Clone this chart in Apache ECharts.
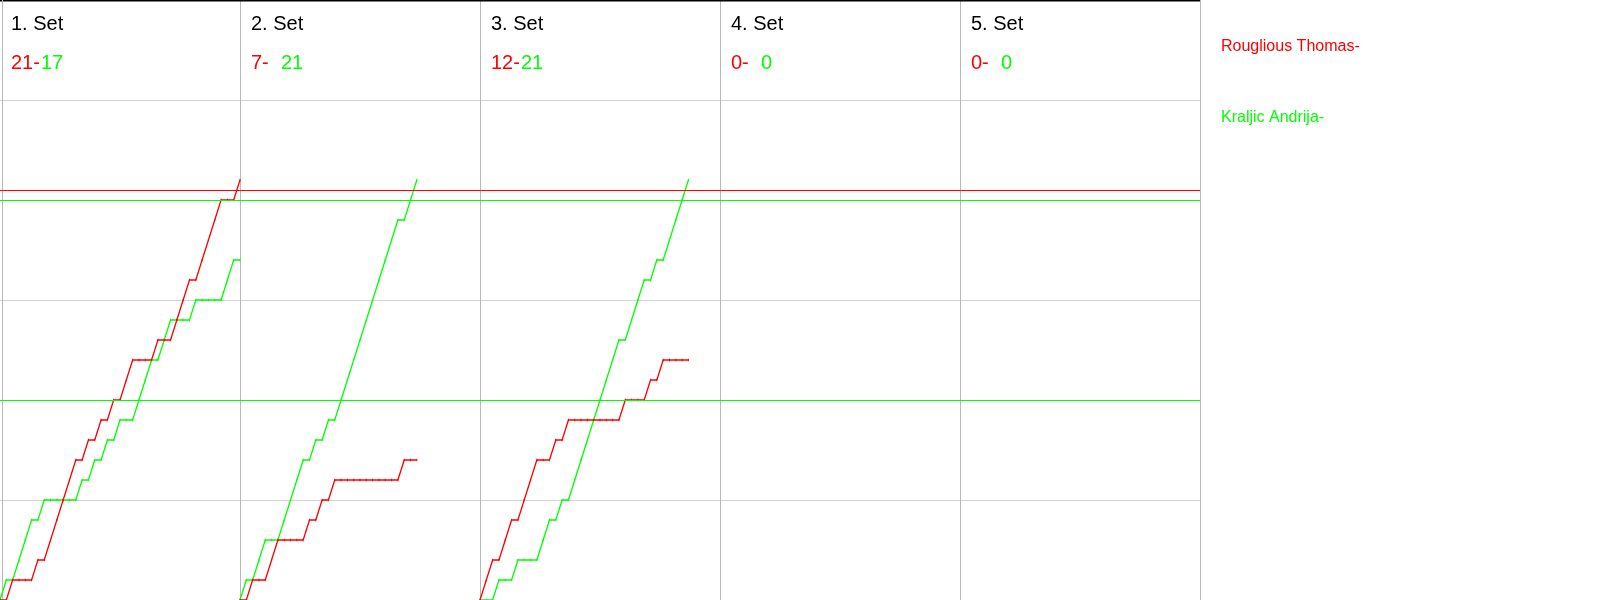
<!DOCTYPE html>
<html><head><meta charset="utf-8">
<script src="https://cdn.jsdelivr.net/npm/echarts@6/dist/echarts.min.js"></script>
<style>html,body{margin:0;padding:0;background:#fff}#c{width:1600px;height:600px}</style>
</head><body><div id="c"></div>
<script>
// ---------- data ----------
const setTitles = ['1. Set', '2. Set', '3. Set', '4. Set', '5. Set'];
const playerRed = 'Rouglious Thomas-';
const playerGreen = 'Kraljic Andrija-';
// rally winners per set: 'R' = red player, 'G' = green player
const set1 = ['G','R','G','G','G','R','G','R','R','R','R','R','G','R','G','R','G','R','G','R','R','G','G','G','R','G','G','R','R','R','G','R','R','R','R','G','G','R'];
const set2 = ['G','R','G','G','R','R','G','G','G','G','R','G','R','G','R','G','G','G','G','G','G','G','G','G','G','R','G','G'];
const set3 = ['R','R','G','R','R','G','R','R','R','G','G','R','G','R','G','G','G','G','G','G','G','G','R','G','G','G','R','G','R','G','G','G','G'];
const set4 = [];
const set5 = [];
const sets = [set1, set2, set3, set4, set5];
const ralliesPerPanel = 38;
const yMax = 30;
const yStep = 5;
const redRefLines = [20.5];
const greenRefLines = [10, 20];

// ---------- build ----------
const RED = '#ff0000', GREEN = '#00ff00';
const FONT = '"Liberation Sans", Arial, sans-serif';
const redData = [], greenData = [], finals = [];
sets.forEach((s, k) => {
  let r = 0, g = 0;
  const x0 = k * ralliesPerPanel;
  if (s.length) {
    redData.push([x0, 0]); greenData.push([x0, 0]);
    s.forEach((w, i) => {
      if (w === 'R') r++; else g++;
      redData.push([x0 + i + 1, r]); greenData.push([x0 + i + 1, g]);
    });
    redData.push(['-', '-']); greenData.push(['-', '-']);
  }
  finals.push([r, g]);
});

const chart = echarts.init(document.getElementById('c'), null, {renderer: 'canvas'});
function mk(vals, color) {
  return {
    silent: true, symbol: 'none', animation: false,
    label: {show: false},
    lineStyle: {color: color, width: 1, type: 'solid'},
    data: vals.map(v => ({yAxis: v}))
  };
}
const option = {
  animation: false,
  backgroundColor: '#fff',
  grid: {left: 0, right: 400, top: 0, bottom: 0},
  xAxis: {
    type: 'value', min: 0, max: ralliesPerPanel * sets.length, interval: ralliesPerPanel,
    axisLine: {show: true, onZero: false, lineStyle: {color: '#d0d0d0'}},
    axisTick: {show: false}, axisLabel: {show: false},
    splitLine: {show: true, showMinLine: false, lineStyle: {color: '#b8b8b8', width: 1}}
  },
  yAxis: {
    type: 'value', min: 0, max: yMax, interval: yStep,
    axisLine: {show: false}, axisTick: {show: false}, axisLabel: {show: false},
    splitLine: {show: true, lineStyle: {color: '#d3d3d3', width: 1}}
  },
  legend: {
    orient: 'vertical', left: 1211, top: 34, icon: 'none',
    itemWidth: 0, itemHeight: 16, itemGap: 55, selectedMode: false,
    textStyle: {fontSize: 16, fontFamily: FONT},
    data: [
      {name: playerRed, textStyle: {color: RED}},
      {name: playerGreen, textStyle: {color: GREEN}}
    ]
  },
  series: [
    {name: playerRed, type: 'line', data: redData, connectNulls: false,
     symbol: 'rect', symbolSize: [1, 2.5], showAllSymbol: true,
     itemStyle: {color: RED}, lineStyle: {color: RED, width: 1.3}, z: 3,
     markLine: mk(redRefLines, RED)},
    {name: playerGreen, type: 'line', data: greenData, connectNulls: false,
     symbol: 'rect', symbolSize: [1, 2.5], showAllSymbol: true,
     itemStyle: {color: GREEN}, lineStyle: {color: GREEN, width: 1.3}, z: 2,
     markLine: mk(greenRefLines, GREEN)}
  ]
};
chart.setOption(option);

// header texts per panel, placed from the axis
const graphics = [];
const rightPx = chart.convertToPixel({xAxisIndex: 0}, ralliesPerPanel * sets.length);
graphics.push({type: 'rect', left: 0, top: 0, shape: {width: rightPx, height: 1.5}, style: {fill: '#000'}, silent: true});
graphics.push({type: 'line', shape: {x1: 2.5, y1: 0, x2: 2.5, y2: 600}, style: {stroke: '#b8b8b8', lineWidth: 1}, silent: true});
sets.forEach((s, k) => {
  const px = chart.convertToPixel({xAxisIndex: 0}, k * ralliesPerPanel);
  graphics.push({type: 'text', x: px + 11, y: 34, silent: true,
    style: {text: setTitles[k], fill: '#000', font: '20px ' + FONT, verticalAlign: 'bottom'}});
  graphics.push({type: 'text', x: px + 11, y: 73, silent: true,
    style: {text: finals[k][0] + '-', fill: RED, font: '20px ' + FONT, verticalAlign: 'bottom'}});
  graphics.push({type: 'text', x: px + 41, y: 73, silent: true,
    style: {text: String(finals[k][1]), fill: GREEN, font: '20px ' + FONT, verticalAlign: 'bottom'}});
});
chart.setOption({graphic: graphics});
</script>
</body></html>
